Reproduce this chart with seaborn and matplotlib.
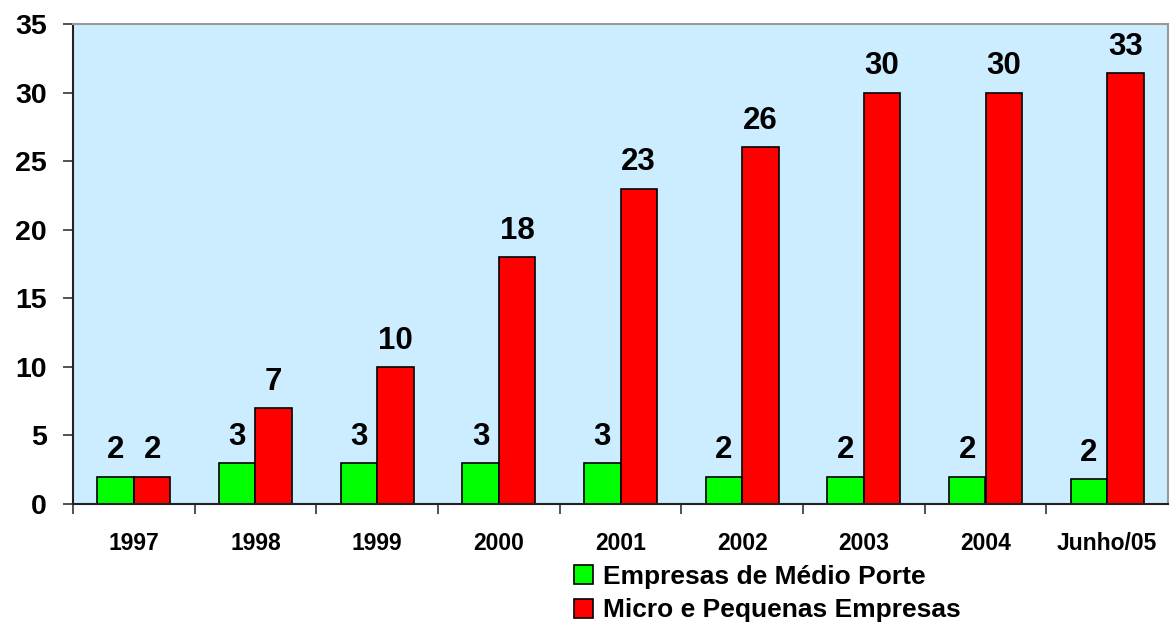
import matplotlib
matplotlib.use("Agg")
import matplotlib.pyplot as plt
import seaborn as sns
import pandas as pd
from matplotlib.ticker import FixedLocator

categories = ["1997", "1998", "1999", "2000", "2001", "2002", "2003", "2004", "Junho/05"]
series_names = ["Empresas de Médio Porte", "Micro e Pequenas Empresas"]
medio_values = [2, 3, 3, 3, 3, 2, 2, 2, 1.8]
micro_values = [2, 7, 10, 18, 23, 26, 30, 30, 31.4]
medio_labels = ["2", "3", "3", "3", "3", "2", "2", "2", "2"]
micro_labels = ["2", "7", "10", "18", "23", "26", "30", "30", "33"]
y_ticks = [0, 5, 10, 15, 20, 25, 30, 35]

df = pd.DataFrame({
    "Ano": categories * 2,
    "Série": [series_names[0]] * len(categories) + [series_names[1]] * len(categories),
    "Valor": medio_values + micro_values,
})

sns.set_theme(style="white")
plt.rcParams["font.family"] = ["Liberation Sans", "DejaVu Sans"]
plt.rcParams["font.weight"] = "bold"
plt.rcParams["text.color"] = "black"
plt.rcParams["xtick.color"] = "black"
plt.rcParams["ytick.color"] = "black"

fig = plt.figure(figsize=(11.72, 6.24), dpi=100)
ax = fig.add_axes([73 / 1172, 1 - 504 / 624, (1168 - 73) / 1172, 480 / 624])
ax.set_facecolor("#CCECFF")

sns.barplot(data=df, x="Ano", y="Valor", hue="Série", order=categories,
            hue_order=series_names, palette=["#00FF00", "#FF0000"],
            width=0.6, edgecolor="black", linewidth=1.2, saturation=1,
            ax=ax, legend=True)

for cont, labs in zip(ax.containers, [medio_labels, micro_labels]):
    ax.bar_label(cont, labels=labs, padding=8, fontsize=22.5, fontweight="bold", color="black")

ax.set_ylim(0, 35)
ax.set_xlim(-0.5, len(categories) - 0.5)
ax.set_yticks(y_ticks)
ax.set_yticklabels([str(t) for t in y_ticks], fontsize=20.5, fontweight="bold", color="black")
ax.tick_params(axis="y", direction="out", length=7, width=1.2, color="#333333", pad=12, left=True)
ax.set_xticks(range(len(categories)))
ax.set_xticklabels(categories, fontsize=16.5, fontweight="bold", color="black")
ax.tick_params(axis="x", which="major", length=0, pad=20)
ax.xaxis.set_minor_locator(FixedLocator([i - 0.5 for i in range(len(categories))]))
ax.tick_params(axis="x", which="minor", direction="out", length=7, width=1.2, color="#333333", bottom=True)
ax.set_xlabel("")
ax.set_ylabel("")

for side in ["left", "bottom"]:
    ax.spines[side].set_color("#222222")
    ax.spines[side].set_linewidth(1.5)
for side in ["top", "right"]:
    ax.spines[side].set_color("#999999")
    ax.spines[side].set_linewidth(1.5)

ax.get_legend().remove()
handles, labels = ax.get_legend_handles_labels()
leg = fig.legend(handles, labels, loc="upper left", bbox_to_anchor=(574 / 1172, 1 - 565 / 624),
                 frameon=False, prop={"weight": "bold", "size": 19},
                 handlelength=0.72, handleheight=0.72, handletextpad=0.38, labelspacing=0.36,
                 borderpad=0, borderaxespad=0)
for t in leg.get_texts():
    t.set_color("black")

fig.savefig("out.png", dpi=100)
